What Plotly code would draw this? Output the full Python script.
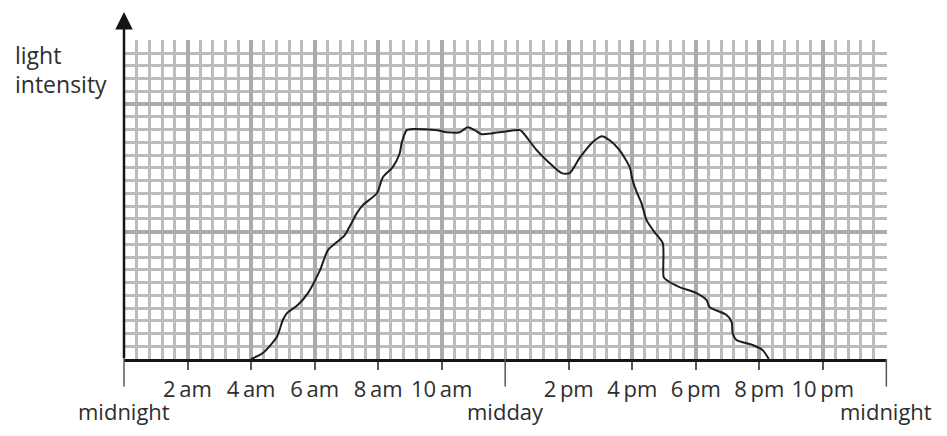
import plotly.graph_objects as go

# Data (hours since midnight, light intensity in grid units)
hours = [4.0, 4.37, 4.81, 5.0, 5.13, 5.47, 5.79, 6.17, 6.42, 6.70, 6.95, 7.33, 7.52, 7.96,
         8.15, 8.46, 8.68, 8.74, 8.90, 9.06, 9.85, 10.16, 10.57, 10.82, 11.04, 11.26, 11.61,
         12.05, 12.46, 12.55, 12.99, 13.40, 13.78, 14.03, 14.34, 14.75, 15.04, 15.29, 15.60,
         15.92, 16.01, 16.14, 16.29, 16.45, 16.70, 16.96, 16.99, 17.08, 17.49, 18.02, 18.34,
         18.43, 18.97, 19.13, 19.16, 19.28, 19.79, 20.10, 20.30]
intensity = [0.0, 0.47, 1.72, 3.06, 3.6, 4.23, 5.17, 6.97, 8.54, 9.17, 9.72, 11.44, 12.07, 13.0,
             14.26, 15.05, 16.14, 16.93, 17.95, 18.03, 17.95, 17.79, 17.79, 18.18, 17.95, 17.63, 17.71,
             17.87, 17.95, 17.79, 16.38, 15.36, 14.58, 14.58, 15.75, 17.0, 17.48, 17.16, 16.38,
             15.05, 14.03, 13.09, 12.23, 10.89, 9.95, 9.09, 6.43, 6.19, 5.64, 5.17, 4.62,
             4.08, 3.45, 2.9, 2.04, 1.49, 1.1, 0.71, 0.0]

tick_hours = [2, 4, 6, 8, 10, 14, 16, 18, 20, 22]
tick_labels = ["2\u2009am", "4\u2009am", "6\u2009am", "8\u2009am", "10\u2009am",
               "2\u2009pm", "4\u2009pm", "6\u2009pm", "8\u2009pm", "10\u2009pm"]
long_tick_hours = [0, 12, 24]
long_tick_labels = ["midnight", "midday", "midnight"]

TXT = "#2e2e2e"
FONT = "Open Sans"

fig = go.Figure()
fig.add_trace(go.Scatter(x=hours, y=intensity, mode="lines",
                         line=dict(color="#1e1e1e", width=2, shape="spline", smoothing=0.7),
                         hoverinfo="skip", showlegend=False))

fig.update_layout(
    width=931, height=420,
    margin=dict(l=116, r=52, t=32, b=69),
    paper_bgcolor="white", plot_bgcolor="white",
    font=dict(family=FONT, color=TXT, size=20),
    xaxis=dict(range=[0, 24.02], tickvals=tick_hours, ticktext=tick_labels,
               showgrid=True, gridcolor="#ababab", gridwidth=3.5,
               minor=dict(dtick=0.4, tick0=0, showgrid=True, gridcolor="#bcbcbc", gridwidth=2.5),
               showline=True, linecolor="#151515", linewidth=3,
               ticks="outside", ticklen=8, tickwidth=1.5, tickcolor="#555555",
               ticklabelstandoff=1,
               tickfont=dict(family=FONT, size=22, color=TXT),
               zeroline=False, fixedrange=True),
    yaxis=dict(range=[0, 25.02], dtick=10, tick0=0,
               showgrid=True, gridcolor="#ababab", gridwidth=3.5,
               minor=dict(dtick=1, tick0=0, showgrid=True, gridcolor="#bcbcbc", gridwidth=2.5),
               showticklabels=False, ticks="", showline=False, zeroline=False, fixedrange=True),
)

annotations = []
# vertical axis with arrow
annotations.append(dict(x=0, xref="x", y=1.088, yref="paper", ax=0, ay=348,
                        text="", showarrow=True, arrowhead=2, arrowsize=1.4, arrowwidth=2.5,
                        arrowcolor="#151515"))
# long ticks at midnight/midday and their labels
for h, lab in zip(long_tick_hours, long_tick_labels):
    annotations.append(dict(x=h, xref="x", y=0, yref="y", ax=0, ay=29, text="",
                            showarrow=True, arrowhead=0, arrowwidth=1.5, arrowcolor="#555555"))
    annotations.append(dict(x=h, xref="x", y=-0.163, yref="paper", text=lab, showarrow=False,
                            xanchor="center", yanchor="middle",
                            font=dict(family=FONT, size=22, color=TXT)))
# y-axis title
annotations.append(dict(x=-0.146, xref="paper", y=0.953, yref="paper", text="light",
                        showarrow=False, xanchor="left", yanchor="middle",
                        font=dict(family=FONT, size=23, color=TXT)))
annotations.append(dict(x=-0.146, xref="paper", y=0.862, yref="paper", text="intensity",
                        showarrow=False, xanchor="left", yanchor="middle",
                        font=dict(family=FONT, size=23, color=TXT)))
fig.update_layout(annotations=annotations)

fig.write_html("out.html")
